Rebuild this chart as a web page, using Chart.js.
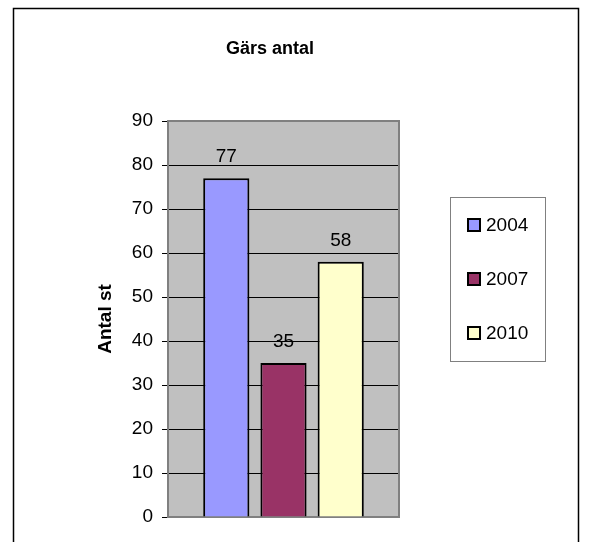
<!DOCTYPE html>
<html>
<head>
<meta charset="utf-8">
<script src="https://cdn.jsdelivr.net/npm/chart.js@4/dist/chart.umd.min.js"></script>
<style>
  html, body { margin: 0; padding: 0; background: #fff; }
  #wrap { width: 589px; height: 542px; }
</style>
</head>
<body>
<div id="wrap"><canvas id="myChart" width="589" height="542"></canvas></div>
<script>
const chartTitle = 'Gärs antal';
const yTitle = 'Antal st';
const years = ['2004', '2007', '2010'];
const counts = [77, 35, 58];
const barColors = ['#9999FF', '#993366', '#FFFFCC'];
const yMin = 0, yMax = 90, yStep = 10;

const FONT = "Arial, 'Liberation Sans', sans-serif";

// gray plot area with a darker gray frame, like the old Excel charts
const plotArea = {
  id: 'plotArea',
  beforeDraw: function(chart) {
    const a = chart.chartArea, ctx = chart.ctx;
    ctx.save();
    ctx.fillStyle = '#fff';
    ctx.fillRect(0, 0, chart.width, chart.height);
    // outer chart frame
    ctx.strokeStyle = '#000';
    ctx.lineWidth = 1.5;
    ctx.beginPath();
    ctx.moveTo(13.5, chart.height + 2);
    ctx.lineTo(13.5, 8.5);
    ctx.lineTo(578.5, 8.5);
    ctx.lineTo(578.5, chart.height + 2);
    ctx.stroke();
    ctx.fillStyle = '#C0C0C0';
    ctx.fillRect(a.left, a.top, a.right - a.left, a.bottom - a.top);
    // title
    ctx.fillStyle = '#000';
    ctx.font = 'bold 18px ' + FONT;
    ctx.textAlign = 'center';
    ctx.textBaseline = 'middle';
    ctx.fillText(chartTitle, 270, 49);
    ctx.restore();
  },
  beforeDatasetsDraw: function(chart) {
    const a = chart.chartArea, ctx = chart.ctx;
    ctx.save();
    ctx.strokeStyle = '#808080';
    ctx.lineWidth = 2;
    ctx.strokeRect(a.left, a.top, a.right - a.left, a.bottom - a.top);
    ctx.restore();
  }
};

// value above each bar
const barValues = {
  id: 'barValues',
  afterDatasetsDraw: function(chart) {
    const ctx = chart.ctx;
    ctx.save();
    ctx.fillStyle = '#000';
    ctx.font = '19px ' + FONT;
    ctx.textAlign = 'center';
    ctx.textBaseline = 'alphabetic';
    chart.data.datasets.forEach((ds, i) => {
      const bar = chart.getDatasetMeta(i).data[0];
      ctx.fillText(String(ds.data[0]), bar.x, bar.y - 16);
    });
    ctx.restore();
  }
};

// boxed legend on the right
const boxLegend = {
  id: 'boxLegend',
  afterDraw: function(chart) {
    const ctx = chart.ctx;
    ctx.save();
    ctx.strokeStyle = '#808080';
    ctx.lineWidth = 1;
    ctx.strokeRect(450.5, 197.5, 95, 164);
    ctx.font = '19px ' + FONT;
    ctx.textAlign = 'left';
    ctx.textBaseline = 'middle';
    chart.data.datasets.forEach((ds, i) => {
      const y = 225 + i * 54;
      ctx.fillStyle = ds.backgroundColor;
      ctx.fillRect(468, y - 6, 12, 12);
      ctx.strokeStyle = '#000';
      ctx.lineWidth = 2;
      ctx.strokeRect(468, y - 6, 12, 12);
      ctx.fillStyle = '#000';
      ctx.fillText(ds.label, 486, y + 1);
    });
    ctx.restore();
  }
};

const datasets = years.map((year, i) => ({
  label: year,
  data: [counts[i]],
  backgroundColor: barColors[i],
  borderColor: '#000',
  borderWidth: 2,
  categoryPercentage: 0.743,
  barPercentage: 0.807
}));

const config = {
  type: 'bar',
  data: { labels: [''], datasets: datasets },
  options: {
    responsive: false,
    animation: false,
    layout: { padding: { left: 90, right: 190, top: 121, bottom: 25 } },
    plugins: {
      legend: { display: false },
      title: { display: false },
      tooltip: { enabled: false }
    },
    scales: {
      x: { display: false },
      y: {
        min: yMin,
        max: yMax,
        afterFit: function(scale) { scale.width = 78; },
        ticks: {
          stepSize: yStep,
          color: '#000',
          padding: 9,
          font: { family: FONT, size: 19 }
        },
        grid: {
          color: (c) => (c.tick && (c.tick.value === yMin || c.tick.value === yMax)) ? 'rgba(0,0,0,0)' : '#000',
          tickColor: '#000',
          tickLength: 6,
          lineWidth: 1
        },
        border: { display: true, color: '#505050', width: 1 },
        title: {
          display: true,
          text: yTitle,
          color: '#000',
          font: { family: FONT, size: 19, weight: 'bold' },
          padding: { top: 4, bottom: 0 }
        }
      }
    }
  },
  plugins: [plotArea, barValues, boxLegend]
};

new Chart(document.getElementById('myChart'), config);
</script>
</body>
</html>
